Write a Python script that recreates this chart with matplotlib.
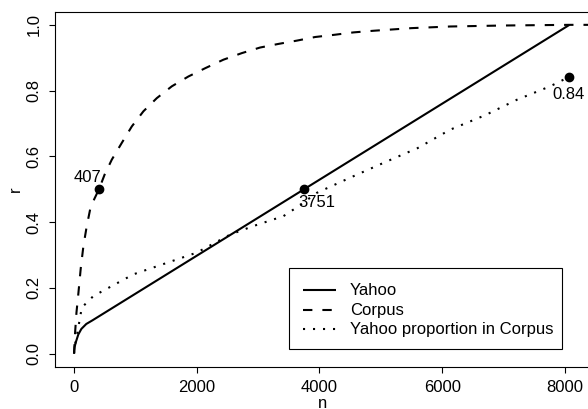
import matplotlib
matplotlib.use("Agg")
import matplotlib.pyplot as plt
from matplotlib.lines import Line2D
from matplotlib.patches import Rectangle

plt.rcParams['font.family'] = ['Liberation Sans', 'DejaVu Sans']

# Yahoo (solid)
yahoo_n = [0, 10, 30, 70, 120, 200, 300, 8075]
yahoo_r = [0.0, 0.02, 0.035, 0.058, 0.075, 0.09, 0.101, 1.0]

# Corpus (dashed)
corpus_n = [0, 10, 18, 40, 72, 110, 153, 205, 262, 330, 407, 500, 616, 779, 942,
            1131, 1349, 1594, 1865, 2137, 2435, 2735, 3033, 3332, 3632, 3930,
            4256, 4554, 4880, 5500, 6130, 7000, 8070, 8600]
corpus_r = [0.0, 0.035, 0.065, 0.125, 0.185, 0.26, 0.327, 0.385, 0.438, 0.47, 0.5,
            0.545, 0.59, 0.641, 0.691, 0.737, 0.777, 0.813, 0.843, 0.868, 0.894,
            0.914, 0.931, 0.942, 0.952, 0.963, 0.970, 0.977, 0.982, 0.990, 0.995,
            0.998, 1.0, 1.0]

# Yahoo proportion in Corpus (dotted)
prop_n = [0, 20, 45, 127, 316, 968, 2000, 2545, 2925, 3413, 3658, 3958, 4500,
          5043, 5600, 6130, 6700, 7217, 7760, 7977, 8060]
prop_r = [0.0, 0.03, 0.053, 0.14, 0.175, 0.241, 0.307, 0.362, 0.388, 0.418,
          0.448, 0.489, 0.535, 0.58, 0.625, 0.681, 0.725, 0.772, 0.813, 0.833, 0.838]

# highlighted points and labels
pt_n = [407, 3751, 8065]
pt_r = [0.5, 0.5, 0.84]
pt_labels = ["407", "3751", "0.84"]

series_labels = ["Yahoo", "Corpus", "Yahoo proportion in Corpus"]

xticks = [0, 2000, 4000, 6000, 8000]
yticks = [0.0, 0.2, 0.4, 0.6, 0.8, 1.0]

W, H = 588, 409
fig = plt.figure(figsize=(W / 100, H / 100), dpi=100)
ax = fig.add_axes([55/W, (H-366.7)/H, (590-55)/W, (366.7-11.7)/H])

lw = 1.5
styles = [
    dict(linestyle='-', solid_capstyle='butt'),
    dict(linestyle=(0, (4.5, 4.8)), dash_capstyle='butt'),
    dict(linestyle=(0, (1, 3.8)), dash_capstyle='butt'),
]
ax.plot(yahoo_n, yahoo_r, color='black', lw=lw, **styles[0])
ax.plot(corpus_n, corpus_r, color='black', lw=lw, **styles[1])
ax.plot(prop_n, prop_r, color='black', lw=lw, **styles[2])

ax.plot(pt_n, pt_r, 'o', color='black', markersize=6, zorder=5)

fs = 12
ax.annotate(pt_labels[0], (pt_n[0], pt_r[0]), xytext=(2, 3), textcoords='offset points',
            ha='right', va='bottom', fontsize=fs)
ax.annotate(pt_labels[1], (pt_n[1], pt_r[1]), xytext=(-4.5, -4), textcoords='offset points',
            ha='left', va='top', fontsize=fs)
ax.annotate(pt_labels[2], (pt_n[2], pt_r[2]), xytext=(0, -7), textcoords='offset points',
            ha='center', va='top', fontsize=fs)

ax.set_xlim(-310, 8410)
ax.set_ylim(-0.04, 1.04)
ax.set_xticks(xticks)
ax.set_xticklabels([str(v) for v in xticks], fontsize=fs)
ax.set_yticks(yticks)
ax.set_yticklabels(["%.1f" % v for v in yticks], fontsize=fs, rotation=90, va='center')
ax.tick_params(direction='out', length=4.5, width=0.8, pad=5)
for s in ax.spines.values():
    s.set_linewidth(0.8)

ax.set_xlabel('n', fontsize=fs, va='center')
ax.xaxis.set_label_coords((323 - 55) / 535, (366.7 - 403) / 355)
ax.set_ylabel('r', fontsize=fs, va='center')
ax.yaxis.set_label_coords((15.3 - 55) / 535, 0.5)

# legend (drawn in figure pixel positions)
fig.patches.append(Rectangle((289.3/W, 1 - 349/H), (561.7-289.3)/W, (349-268.3)/H,
                             transform=fig.transFigure, facecolor='white',
                             edgecolor='black', linewidth=0.8, zorder=10))
row_y = [290, 309.7, 329.3]
for lab, st, yy in zip(series_labels, styles, row_y):
    fig.lines.append(Line2D([303.3/W, 336/W], [1 - yy/H, 1 - yy/H], transform=fig.transFigure,
                            color='black', lw=lw, zorder=11, **st))
    fig.text(350/W, 1 - (yy + 0.5)/H, lab, fontsize=fs, ha='left', va='center', zorder=11)

fig.savefig('out.png', dpi=100)
